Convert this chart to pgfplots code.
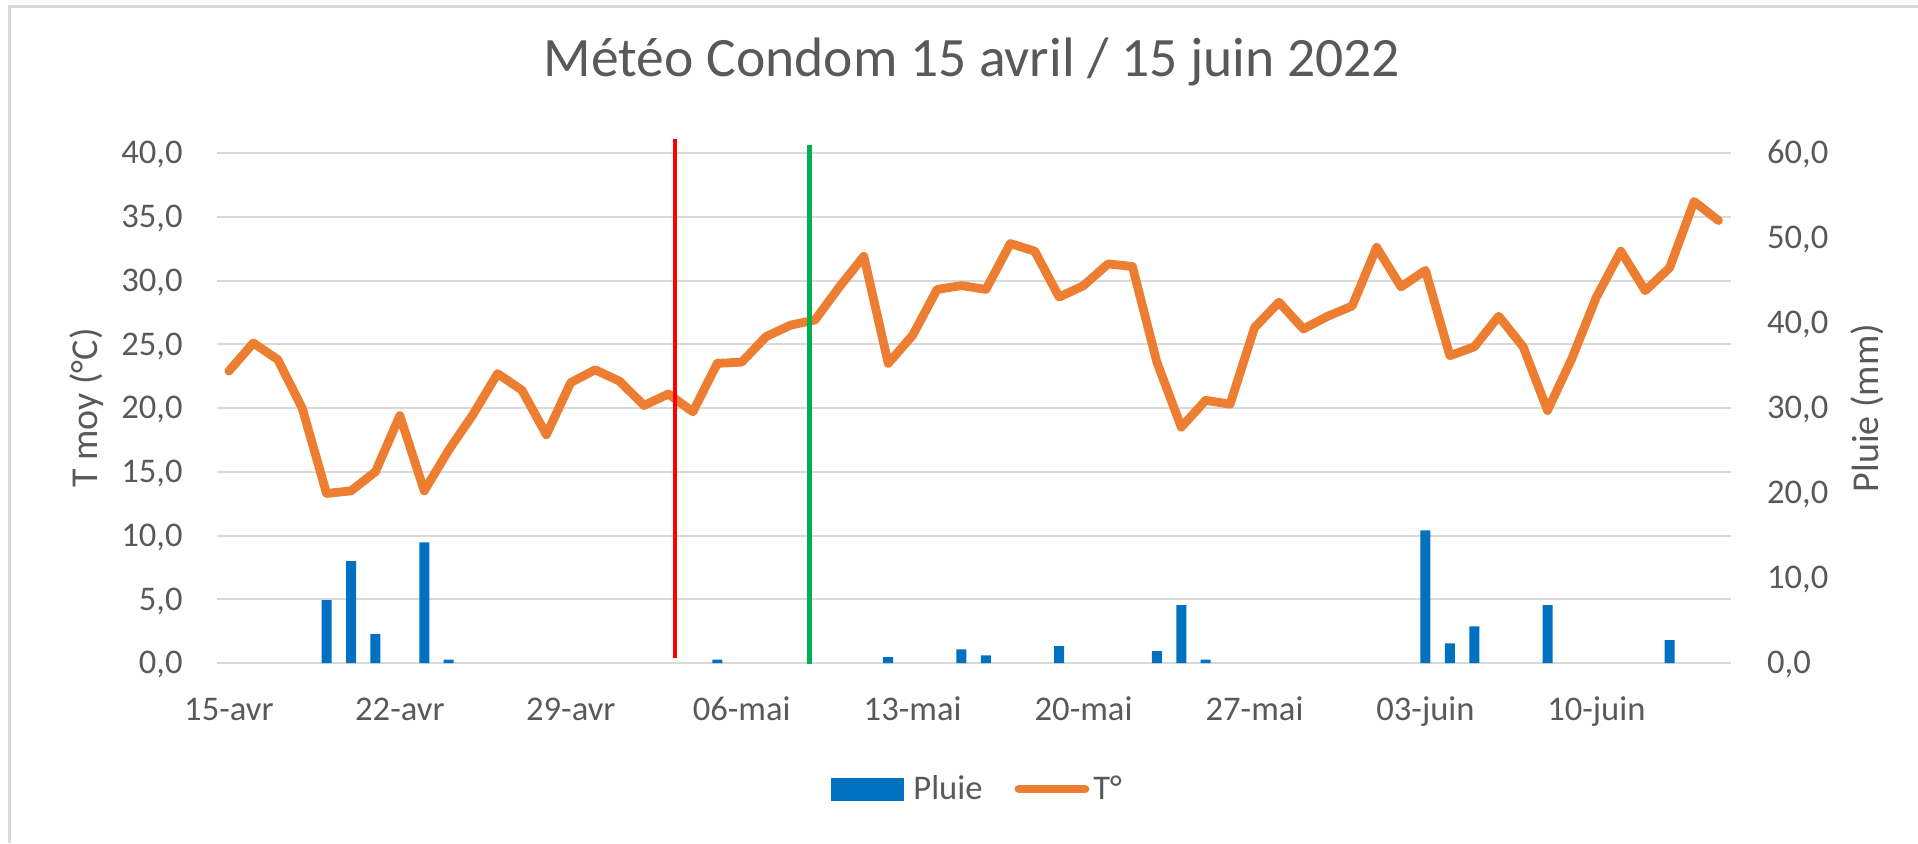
\documentclass[border=0pt]{standalone}
\usepackage{pgfplots}
\pgfplotsset{compat=1.18}
\usepackage{fontspec}
\setmainfont{Carlito}
\definecolor{textgray}{HTML}{595959}
\definecolor{gridgray}{HTML}{D9D9D9}
\definecolor{orangeT}{HTML}{ED7D31}
\definecolor{barblue}{HTML}{0070C0}
\definecolor{redline}{HTML}{FF0000}
\definecolor{greenline}{HTML}{00B050}
\begin{document}
\begin{tikzpicture}
\path[use as bounding box] (0,0) rectangle (959pt,421.5pt);
\draw[gridgray, line width=1.3pt] (4.67pt,0pt) -- (4.67pt,418.2pt) -- (959pt,418.2pt);
% Left axis: temperature
\begin{axis}[
  at={(108.35pt,90pt)}, anchor=south west,
  scale only axis, width=757pt, height=255pt,
  xmin=-0.5, xmax=61.5, ymin=0, ymax=40,
  ytick={0,5,...,40},
  xtick={0,7,14,21,28,35,42,49,56},
  xticklabels={15-avr,22-avr,29-avr,06-mai,13-mai,20-mai,27-mai,03-juin,10-juin},
  ymajorgrids, grid style={gridgray, line width=1pt},
  axis line style={draw=none}, tick style={draw=none},
  /pgf/number format/.cd, fixed, fixed zerofill, precision=1, use comma, assume math mode=true,
  /pgfplots/.cd,
  every tick label/.append style={text=textgray, font=\fontsize{17.3}{20}\selectfont},
  yticklabel style={anchor=base east, inner sep=0pt, xshift=-16.85pt, yshift=-5.4pt},
  xticklabel style={anchor=base, inner sep=0pt, yshift=-28.5pt},
  ylabel={T moy (°C)},
  ylabel style={at={(axis description cs:-0.0859,0.5)}, anchor=center, text=textgray, font=\fontsize{19}{23}\selectfont},
  title={Météo Condom 15 avril / 15 juin 2022},
  title style={at={(axis description cs:0.4989,1)}, anchor=base, yshift=32.35pt, text=textgray, font=\fontsize{27.8}{32}\selectfont},
]
\addplot[color=orangeT, line width=4.4pt, line join=round, line cap=round] coordinates {
(0,22.9) (1,25.1) (2,23.8) (3,20.0) (4,13.3) (5,13.5) (6,15.0) (7,19.4) (8,13.5) (9,16.7)
(10,19.5) (11,22.7) (12,21.4) (13,17.9) (14,22.0) (15,23.0) (16,22.1) (17,20.2) (18,21.1) (19,19.7)
(20,23.5) (21,23.6) (22,25.6) (23,26.5) (24,26.9) (25,29.5) (26,31.9) (27,23.5) (28,25.7) (29,29.3)
(30,29.6) (31,29.3) (32,32.9) (33,32.3) (34,28.7) (35,29.6) (36,31.3) (37,31.1) (38,23.6) (39,18.5)
(40,20.6) (41,20.3) (42,26.3) (43,28.3) (44,26.2) (45,27.2) (46,28.0) (47,32.6) (48,29.5) (49,30.8)
(50,24.1) (51,24.8) (52,27.2) (53,24.8) (54,19.8) (55,23.9) (56,28.7) (57,32.3) (58,29.2) (59,31.0)
(60,36.2) (61,34.7)
};
\end{axis}
% Right axis: rain
\begin{axis}[
  at={(108.35pt,90pt)}, anchor=south west,
  scale only axis, width=757pt, height=255pt,
  xmin=-0.5, xmax=61.5, ymin=0, ymax=60,
  ytick={0,10,...,60}, xtick=\empty,
  yticklabel pos=right,
  axis line style={draw=none}, tick style={draw=none},
  clip=false,
  /pgf/number format/.cd, fixed, fixed zerofill, precision=1, use comma, assume math mode=true,
  /pgfplots/.cd,
  every tick label/.append style={text=textgray, font=\fontsize{17.3}{20}\selectfont},
  yticklabel style={anchor=base west, inner sep=0pt, xshift=18pt, yshift=-5.4pt},
  ylabel={Pluie (mm)},
  ylabel style={at={(axis description cs:1.0905,0.5)}, anchor=center, text=textgray, font=\fontsize{19}{23}\selectfont},
  legend columns=-1,
  legend style={draw=none, fill=none, at={(axis description cs:0.503,-0.247)}, anchor=center,
    font=\fontsize{17.3}{20}\selectfont, text=textgray,
    /tikz/every even column/.append style={column sep=14pt}},
]
\addplot[ybar, bar width=5pt, fill=barblue, draw=none, forget plot] coordinates {
(4,7.4) (5,12.0) (6,3.4) (8,14.2) (9,0.4) (20,0.4) (27,0.7) (30,1.6) (31,0.9) (34,2.0)
(38,1.4) (39,6.8) (40,0.4) (49,15.6) (50,2.3) (51,4.3) (54,6.8) (59,2.7)
};
\addplot[redline, line width=2.4pt, forget plot] coordinates {(18.27,0.6) (18.27,61.65)};
\addplot[greenline, line width=2.4pt, forget plot] coordinates {(23.77,-0.15) (23.77,60.9)};
\addlegendimage{legend image code/.code={\fill[barblue] (0pt,-5.5pt) rectangle (36pt,5.5pt); \path (39pt,0pt);}}
\addlegendentry{Pluie}
\addlegendimage{legend image code/.code={\draw[orangeT, line width=4.4pt, line cap=round] (3pt,0pt) -- (36pt,0pt); \path (38pt,0pt);}}
\addlegendentry{T°}
\end{axis}
\end{tikzpicture}
\end{document}
